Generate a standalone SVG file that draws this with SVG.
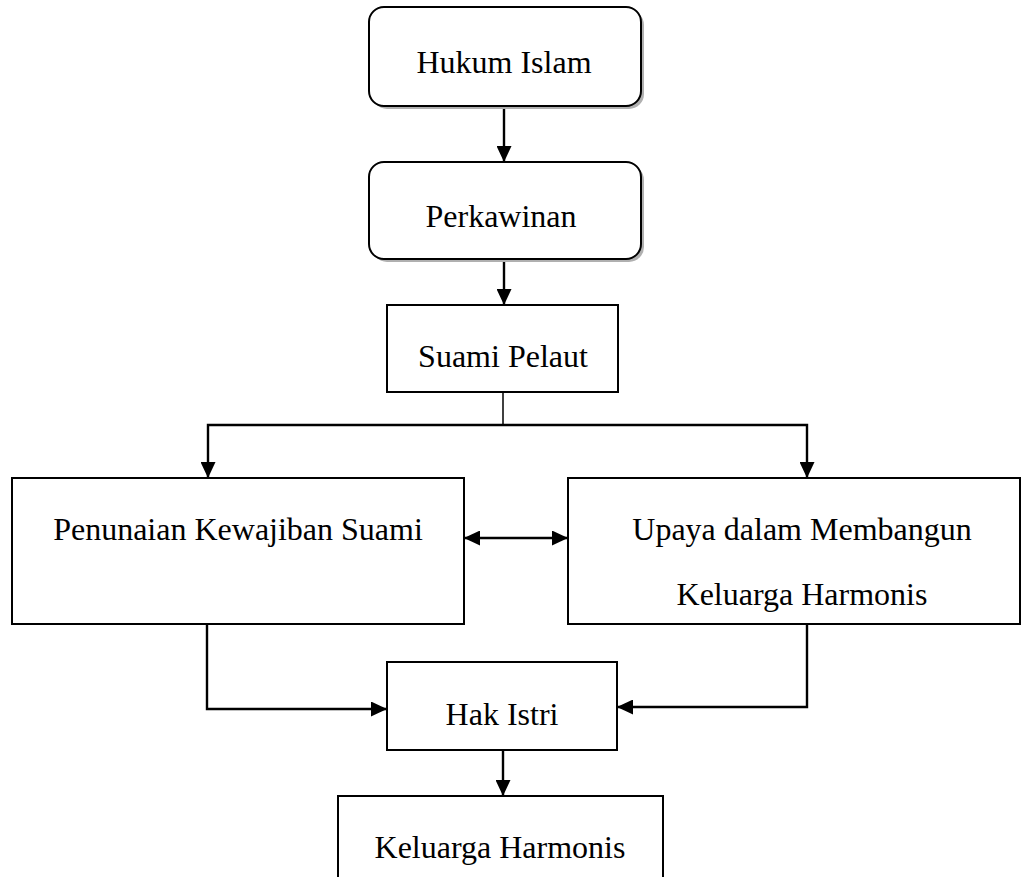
<svg xmlns="http://www.w3.org/2000/svg" width="1022" height="877" viewBox="0 0 1022 877">
<defs>
<style>
.box{fill:#fff;stroke:#000;stroke-width:2}
.shadow{fill:#b0b0b0}
.lbl{font-family:"Liberation Serif","Times New Roman",serif;font-size:32px;fill:#000;text-anchor:middle}
.con{fill:none;stroke:#000;stroke-width:2.4}
.arr{marker-end:url(#ah)}
</style>
<marker id="ah" viewBox="0 0 16 15" refX="16" refY="7.5" markerWidth="16" markerHeight="15" markerUnits="userSpaceOnUse" orient="auto-start-reverse">
<path d="M0,0 L16,7.5 L0,15 z" fill="#000"/>
</marker>
</defs>
<rect width="1022" height="877" fill="#fff"/>
<g id="connectors">
<line class="con arr" x1="504" y1="106" x2="504" y2="162"/>
<line class="con arr" x1="504" y1="259" x2="504" y2="305"/>
<line x1="503" y1="392" x2="503" y2="425" stroke="#000" stroke-width="1.5"/>
<polyline class="con arr" points="503,425 208,425 208,478"/>
<polyline class="con arr" points="503,425 807,425 807,478" stroke-width="1.8"/>
<line class="con" x1="464" y1="538" x2="568" y2="538" marker-start="url(#ah)" marker-end="url(#ah)"/>
<polyline class="con arr" points="207,624 207,709 387,709"/>
<polyline class="con arr" points="807,624 807,707 617,707"/>
<line class="con arr" x1="503" y1="750" x2="503" y2="796"/>
</g>
<g id="hukum-islam">
<rect class="shadow" x="372" y="10" width="272" height="99" rx="15"/>
<rect class="box" x="369" y="7" width="272" height="99" rx="15"/>
<text class="lbl" x="504" y="73">Hukum Islam</text>
</g>
<g id="perkawinan">
<rect class="shadow" x="372" y="165" width="272" height="97" rx="15"/>
<rect class="box" x="369" y="162" width="272" height="97" rx="15"/>
<text class="lbl" x="501" y="227">Perkawinan</text>
</g>
<g id="suami-pelaut">
<rect class="box" x="387" y="305" width="231" height="87"/>
<text class="lbl" x="503" y="367">Suami Pelaut</text>
</g>
<g id="penunaian">
<rect class="box" x="12" y="478" width="452" height="146"/>
<text class="lbl" x="238" y="540">Penunaian Kewajiban Suami</text>
</g>
<g id="upaya">
<rect class="box" x="568" y="478" width="452" height="146"/>
<text class="lbl" x="802" y="540">Upaya dalam Membangun</text>
<text class="lbl" x="802" y="605">Keluarga Harmonis</text>
</g>
<g id="hak-istri">
<rect class="box" x="387" y="662" width="230" height="88"/>
<text class="lbl" x="502" y="725">Hak Istri</text>
</g>
<g id="keluarga-harmonis">
<rect class="box" x="338" y="796" width="325" height="90"/>
<text class="lbl" x="500" y="858">Keluarga Harmonis</text>
</g>
</svg>
